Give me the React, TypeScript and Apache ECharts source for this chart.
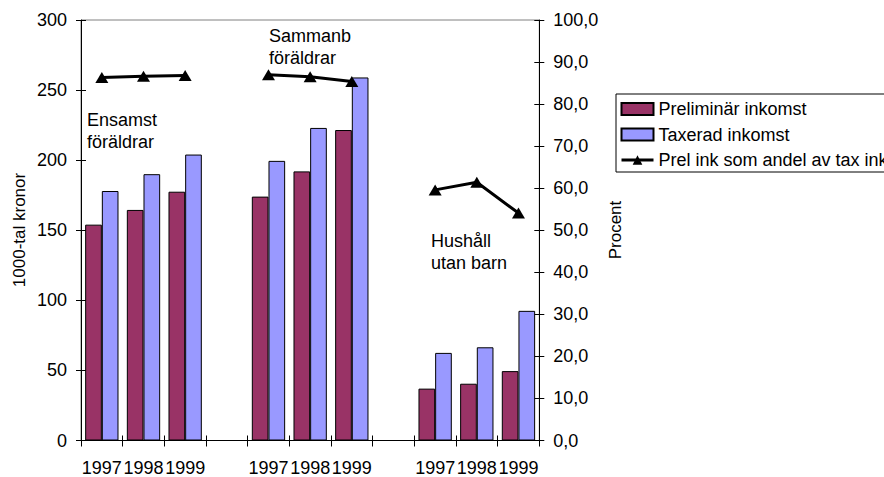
import React, { useEffect, useRef } from "react";
import * as echarts from "echarts";

const categories = ["1997", "1998", "1999", "", "1997", "1998", "1999", "", "1997", "1998", "1999"];
const prelIncome = [154, 164.5, 177.5, null, 174, 192, 221.5, null, 37, 40.5, 49.5];
const taxIncome = [178, 190, 204, null, 199.5, 223, 259, null, 62.5, 66.5, 92.5];
const prelShare = [86.3, 86.6, 86.8, null, 87.0, 86.5, 85.4, null, 59.6, 61.4, 54.1];
const seriesNames = ["Preliminär inkomst", "Taxerad inkomst", "Prel ink som andel av tax ink"];
const groupLabels = ["Ensamst\nföräldrar", "Sammanb\nföräldrar", "Hushåll\nutan barn"];

const FONT = "'Liberation Sans', Arial, sans-serif";
const FS = 18;

export default function App() {
  const ref = useRef<HTMLDivElement>(null);
  useEffect(() => {
    if (!ref.current) return;
    const chart = echarts.init(ref.current, null, { renderer: "svg" });
    const toDash = (arr: (number | null)[]) => arr.map((v) => (v === null ? "-" : v));
    const gridTop = 20;
    const gridBottom = 440.5;
    const baseY = (extra: any) => ({
      type: "value",
      splitLine: { show: false },
      axisLine: { show: true, lineStyle: { color: "#000", width: 1 } },
      ...extra,
    });
    const option: any = {
      animation: false,
      backgroundColor: "#fff",
      textStyle: { fontFamily: FONT, color: "#000" },
      grid: {
        left: 81,
        right: 884 - 539.3,
        top: gridTop,
        bottom: 477 - gridBottom,
        show: true,
        borderColor: "#808080",
        borderWidth: 1,
        backgroundColor: "transparent",
      },
      legend: {
        orient: "vertical",
        left: 616,
        top: 94,
        data: [
          { name: seriesNames[0], icon: "rect" },
          { name: seriesNames[1], icon: "rect" },
          { name: seriesNames[2], lineStyle: { width: 3, color: "#000" }, itemStyle: { color: "#000" } },
        ],
        backgroundColor: "#fff",
        borderColor: "#000",
        borderWidth: 1,
        borderRadius: 0,
        padding: [6, 4, 3, 4],
        itemGap: 7.5,
        itemWidth: 32,
        itemHeight: 12,
        textStyle: { fontFamily: FONT, fontSize: FS, color: "#000" },
      },
      xAxis: [
        {
          type: "category",
          data: categories,
          position: "bottom",
          axisLine: { show: true, lineStyle: { color: "#000", width: 1 } },
          axisTick: { show: true, length: 6, lineStyle: { color: "#000" }, alignWithLabel: false },
          axisLabel: { color: "#000", fontFamily: FONT, fontSize: FS, margin: 18, interval: 0 },
        },
        {
          type: "category",
          data: categories,
          position: "bottom",
          offset: 0,
          axisLine: { show: false },
          axisTick: { show: true, inside: true, length: 5, lineStyle: { color: "#000" } },
          axisLabel: { show: false },
        },
      ],
      yAxis: [
        baseY({
          position: "left",
          min: 0,
          max: 300,
          interval: 50,
          axisTick: { show: true, length: 5, lineStyle: { color: "#000" } },
          axisLabel: { color: "#000", fontFamily: FONT, fontSize: FS, margin: 14 },
        }),
        baseY({
          position: "right",
          min: 0,
          max: 100,
          interval: 10,
          axisTick: { show: true, length: 5, lineStyle: { color: "#000" } },
          axisLabel: {
            color: "#000",
            fontFamily: FONT,
            fontSize: FS,
            margin: 14,
            formatter: (v: number) => v.toFixed(1).replace(".", ","),
          },
        }),
        baseY({
          position: "left",
          min: 0,
          max: 300,
          interval: 50,
          axisLine: { show: false },
          axisTick: { show: true, inside: true, length: 5, lineStyle: { color: "#000" } },
          axisLabel: { show: false },
        }),
        baseY({
          position: "right",
          min: 0,
          max: 100,
          interval: 10,
          axisLine: { show: false },
          axisTick: { show: true, inside: true, length: 5, lineStyle: { color: "#000" } },
          axisLabel: { show: false },
        }),
      ],
      series: [
        {
          name: seriesNames[0],
          type: "bar",
          xAxisIndex: 0,
          yAxisIndex: 0,
          data: toDash(prelIncome),
          barGap: "0%",
          barCategoryGap: "20%",
          itemStyle: { color: "#993366", borderColor: "#000", borderWidth: 1 },
        },
        {
          name: seriesNames[1],
          type: "bar",
          xAxisIndex: 0,
          yAxisIndex: 0,
          data: toDash(taxIncome),
          barGap: "0%",
          barCategoryGap: "20%",
          itemStyle: { color: "#9999FF", borderColor: "#000", borderWidth: 1 },
        },
        {
          name: seriesNames[2],
          type: "line",
          xAxisIndex: 0,
          yAxisIndex: 1,
          data: toDash(prelShare),
          connectNulls: false,
          symbol: "triangle",
          symbolSize: [13, 11],
          lineStyle: { color: "#000", width: 3 },
          itemStyle: { color: "#000" },
          z: 5,
        },
      ],
      graphic: [
        {
          type: "text",
          x: 19,
          y: 230,
          rotation: Math.PI / 2,
          style: { text: "1000-tal kronor", font: `${FS - 1}px ${FONT}`, fill: "#000", align: "center", verticalAlign: "middle" },
        },
        {
          type: "text",
          x: 615,
          y: 230,
          rotation: Math.PI / 2,
          style: { text: "Procent", font: `${FS - 1}px ${FONT}`, fill: "#000", align: "center", verticalAlign: "middle" },
        },
        {
          type: "text",
          x: 87,
          y: 109,
          style: { text: groupLabels[0], font: `${FS}px ${FONT}`, fill: "#000", lineHeight: 22, align: "left", verticalAlign: "top" },
        },
        {
          type: "text",
          x: 269,
          y: 25,
          style: { text: groupLabels[1], font: `${FS}px ${FONT}`, fill: "#000", lineHeight: 22, align: "left", verticalAlign: "top" },
        },
        {
          type: "text",
          x: 431,
          y: 230,
          style: { text: groupLabels[2], font: `${FS}px ${FONT}`, fill: "#000", lineHeight: 22, align: "left", verticalAlign: "top" },
        },
      ],
    };
    chart.setOption(option);
    return () => chart.dispose();
  }, []);
  return (
    <div
      ref={ref}
      style={{ position: "absolute", left: 0, top: 0, width: 884, height: 477, background: "#fff" }}
    />
  );
}
